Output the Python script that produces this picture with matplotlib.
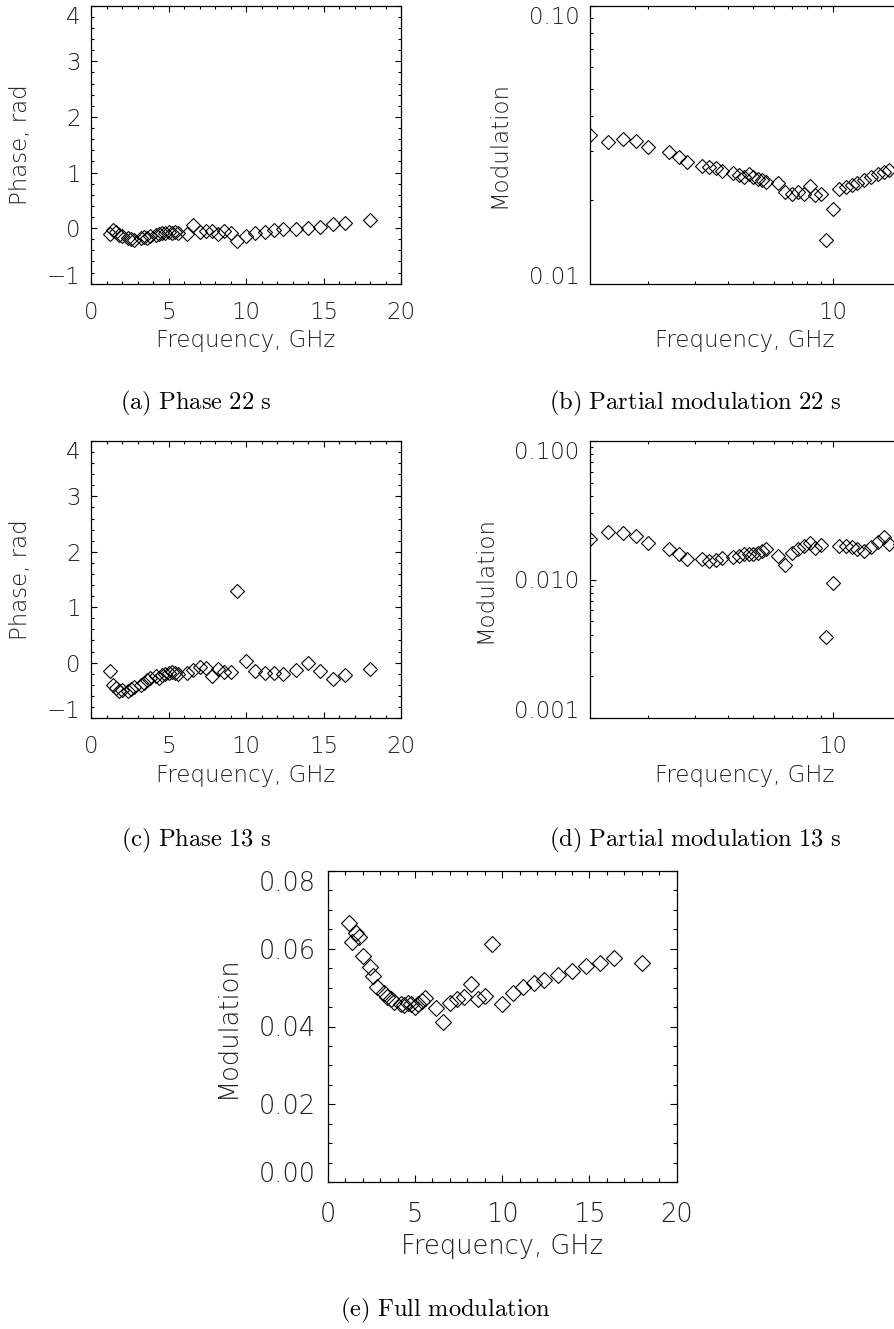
import numpy as np
import matplotlib
matplotlib.use('Agg')
import matplotlib.pyplot as plt
from matplotlib.ticker import (MultipleLocator, FixedLocator, FixedFormatter,
                               LogLocator, NullFormatter, FormatStrFormatter)

# frequencies, GHz
freq = [1.2, 1.4, 1.6, 1.8, 2.0, 2.4, 2.6, 2.8, 3.2, 3.4, 3.6, 3.8, 4.2, 4.4,
        4.6, 4.8, 5.0, 5.2, 5.4, 5.6, 6.2, 6.6, 7.0, 7.4, 7.8, 8.2, 8.6, 9.0,
        9.4, 10.0, 10.6, 11.2, 11.8, 12.4, 13.2, 14.0, 14.8, 15.6, 16.4, 18.0]

# (a) phase, 22 s
phase_22 = [-0.10, -0.04, -0.07, -0.12, -0.14, -0.17, -0.20, -0.22, -0.18, -0.16,
            -0.17, -0.14, -0.13, -0.10, -0.09, -0.08, -0.07, -0.08, -0.07, -0.08,
            -0.10, 0.05, -0.07, -0.05, -0.05, -0.11, -0.05, -0.09, -0.23, -0.15,
            -0.09, -0.07, -0.04, -0.02, -0.02, 0.00, 0.02, 0.07, 0.10, 0.14]

# (b) partial modulation, 22 s
mod_22 = [0.0343, 0.0324, 0.0331, 0.0326, 0.0311, 0.0298, 0.0286, 0.0275, 0.0266, 0.0262,
          0.0260, 0.0254, 0.0251, 0.0246, 0.0242, 0.0248, 0.0242, 0.0238, 0.0237, 0.0233,
          0.0231, 0.0214, 0.0211, 0.0214, 0.0210, 0.0225, 0.0209, 0.0210, 0.0144, 0.0185,
          0.0219, 0.0222, 0.0226, 0.0231, 0.0236, 0.0242, 0.0248, 0.0252, 0.0257, 0.0262]

# (c) phase, 13 s
phase_13 = [-0.16, -0.40, -0.46, -0.51, -0.50, -0.52, -0.48, -0.44, -0.40, -0.36,
            -0.32, -0.28, -0.25, -0.27, -0.23, -0.20, -0.19, -0.17, -0.18, -0.20,
            -0.18, -0.13, -0.08, -0.10, -0.25, -0.12, -0.17, -0.17, 1.30, 0.02,
            -0.16, -0.18, -0.19, -0.21, -0.14, 0.00, -0.16, -0.29, -0.23, -0.12]

# (d) partial modulation, 13 s
mod_13 = [0.0195, 0.0220, 0.0215, 0.0206, 0.0182, 0.0165, 0.0152, 0.0140, 0.0140, 0.0137,
          0.0138, 0.0142, 0.0145, 0.0149, 0.0152, 0.0154, 0.0153, 0.0156, 0.0160, 0.0165,
          0.0149, 0.0128, 0.0156, 0.0165, 0.0174, 0.0182, 0.0169, 0.0176, 0.00385, 0.00946,
          0.0174, 0.0174, 0.0171, 0.0166, 0.0160, 0.0172, 0.0185, 0.0203, 0.0180, 0.0180]

# (e) full modulation
mod_full = [0.0665, 0.0618, 0.0640, 0.0630, 0.0582, 0.0554, 0.0530, 0.0502, 0.0485, 0.0477,
            0.0470, 0.0464, 0.0459, 0.0455, 0.0461, 0.0459, 0.0451, 0.0459, 0.0465, 0.0472,
            0.0447, 0.0411, 0.0461, 0.0470, 0.0477, 0.0508, 0.0470, 0.0479, 0.0612, 0.0459,
            0.0487, 0.0502, 0.0511, 0.0519, 0.0532, 0.0543, 0.0555, 0.0562, 0.0575, 0.0564]

captions = ['(a) Phase 22 s', '(b) Partial modulation 22 s', '(c) Phase 13 s',
            '(d) Partial modulation 13 s', '(e) Full modulation']

plt.rcParams['font.family'] = ['DejaVu Sans']
plt.rcParams['font.weight'] = 200
plt.rcParams['axes.labelweight'] = 200
plt.rcParams['mathtext.fontset'] = 'cm'

W, H = 894, 1329
fig = plt.figure(figsize=(W / 100, H / 100), dpi=100)
TXT = '#202020'


def px_axes(left, top, w, h):
    # axes from pixel box (top-left origin)
    return fig.add_axes([left / W, 1 - (top + h) / H, w / W, h / H])


def style(ax, s=1.0):
    ax.tick_params(which='both', direction='in', top=True, right=True,
                   width=0.8, colors='black', labelcolor=TXT, labelsize=16.5 * s)
    ax.tick_params(which='major', length=4.6 * s)
    ax.tick_params(which='minor', length=2.3 * s)
    ax.tick_params(axis='x', pad=12.5 * s)
    ax.tick_params(axis='y', pad=7.5 * s)
    for sp in ax.spines.values():
        sp.set_linewidth(0.9)
    # IDL keeps the end labels inside the axis range
    ticks = ax.yaxis.get_major_ticks()
    ticks[0].label1.set_va('baseline')
    ticks[-1].label1.set_va('top')


def labels(ax, ylab, ylab_x, s=1.0, xlab_y=-0.206):
    ax.set_xlabel('Frequency, GHz', fontsize=16.5 * s, color=TXT)
    ax.set_ylabel(ylab, fontsize=16.5 * s, color=TXT)
    ax.xaxis.set_label_coords(0.5, xlab_y)
    ax.yaxis.set_label_coords(ylab_x, 0.5)
    ax.xaxis.label.set_va('center')
    ax.yaxis.label.set_va('center')


def diamonds(ax, y, ms=7.6):
    ax.plot(freq, y, ls='none', marker='D', ms=ms, mfc='none', mec='black', mew=0.8)


def phase_panel(ax, y):
    diamonds(ax, y)
    ax.set_xlim(0, 20)
    ax.set_ylim(-1, 4)
    ax.xaxis.set_major_locator(MultipleLocator(5))
    ax.xaxis.set_minor_locator(MultipleLocator(1))
    ax.set_yticks([-1, 0, 1, 2, 3, 4])
    ax.yaxis.set_minor_locator(MultipleLocator(0.2))
    style(ax)
    labels(ax, 'Phase, rad', -0.229)


def log_panel(ax, y, ymin, yticks, ylabels, ylab_x):
    diamonds(ax, y)
    ax.set_xscale('log')
    ax.set_yscale('log')
    ax.set_xlim(1.2, 18)
    ax.set_ylim(ymin, 0.1)
    ax.xaxis.set_major_locator(FixedLocator([10]))
    ax.xaxis.set_major_formatter(FixedFormatter(['10']))
    ax.xaxis.set_minor_locator(LogLocator(base=10, subs=np.arange(2, 10)))
    ax.xaxis.set_minor_formatter(NullFormatter())
    ax.yaxis.set_major_locator(FixedLocator(yticks))
    ax.yaxis.set_major_formatter(FixedFormatter(ylabels))
    ax.yaxis.set_minor_locator(LogLocator(base=10, subs=np.arange(2, 10)))
    ax.yaxis.set_minor_formatter(NullFormatter())
    style(ax)
    labels(ax, 'Modulation', ylab_x)


# (a)
ax_a = px_axes(91, 5.7, 310, 278)
phase_panel(ax_a, phase_22)

# (b) -- runs off the right edge like the original page crop
ax_b = px_axes(590, 5.7, 310, 278)
log_panel(ax_b, mod_22, 0.01, [0.01, 0.1], ['0.01', '0.10'], -0.2935)

# (c)
ax_c = px_axes(91, 441, 310, 277)
phase_panel(ax_c, phase_13)

# (d)
ax_d = px_axes(590, 441, 310, 277)
log_panel(ax_d, mod_13, 0.001, [0.001, 0.01, 0.1], ['0.001', '0.010', '0.100'], -0.3387)

# (e)
s = 1.126
ax_e = px_axes(327.7, 870.7, 349, 311.6)
diamonds(ax_e, mod_full, ms=8.0)
ax_e.set_xlim(0, 20)
ax_e.set_ylim(0, 0.08)
ax_e.xaxis.set_major_locator(MultipleLocator(5))
ax_e.xaxis.set_minor_locator(MultipleLocator(1))
ax_e.set_yticks([0.0, 0.02, 0.04, 0.06, 0.08])
ax_e.yaxis.set_minor_locator(MultipleLocator(0.005))
ax_e.yaxis.set_major_formatter(FormatStrFormatter('%.2f'))
style(ax_e, s)
labels(ax_e, 'Modulation', -0.2885, s, xlab_y=-0.2076)

# captions in Computer Modern, like the LaTeX subfigure captions
cap_pos = [(196, 409), (695, 409), (196, 846), (695, 846), (445, 1316)]
for txt, (cx, cy) in zip(captions, cap_pos):
    tex = r'$\mathrm{' + txt.replace(' ', r'\ ') + '}$'
    fig.text(cx / W, 1 - cy / H, tex, ha='center', va='baseline', fontsize=17.7, color='black')

fig.savefig('out.png', dpi=100)
